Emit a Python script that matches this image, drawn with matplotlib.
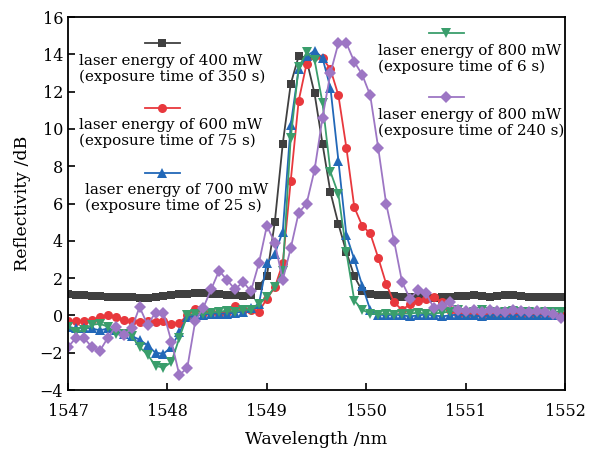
import numpy as np
import matplotlib
matplotlib.use('Agg')
import matplotlib.pyplot as plt
from matplotlib.lines import Line2D

# 波长网格 (nm)
wavelength = np.round(1547 + 0.08 * np.arange(63), 2)

r400 = [1.15, 1.1, 1.1, 1.05, 1.05, 1.0, 1.0, 1.0, 1.0, 0.95, 0.95, 1.0, 1.05, 1.1, 1.15, 1.15, 1.2, 1.2, 1.15, 1.15, 1.1, 1.1, 1.05, 1.1,
        1.6, 2.1, 5.0, 9.2, 12.4, 13.9, 13.7, 11.9, 9.2, 6.6, 4.9, 3.4, 2.1, 1.3,
        1.15, 1.1, 1.1, 1.05, 1.0, 1.0, 1.0, 0.95, 0.95, 1.0, 1.0, 1.05, 1.05, 1.1, 1.05, 1.0, 1.05, 1.1, 1.1, 1.05, 1.0, 1.0, 1.0, 1.0, 1.0]
r600 = [-0.3, -0.3, -0.3, -0.25, -0.1, 0.0, -0.1, -0.25, -0.3, -0.35, -0.3, -0.35, -0.3, -0.45, -0.4,
        0.0, 0.35, 0.15, 0.2, 0.1, 0.2, 0.5, 0.3, 0.3, 0.2, 0.9, 1.5,
        2.8, 7.2, 11.5, 13.5, 13.9, 13.8, 13.2, 11.8, 9.0, 5.8, 4.8, 4.4, 3.1, 1.7, 0.7,
        0.3, 0.6, 0.8, 0.9, 1.0, 0.7, 0.3, 0.1, 0.0, 0.1, 0.05, 0.1, 0.0, 0.05, 0.1, 0.05, 0.0, 0.05, 0.1, 0.05, 0.0]
r700 = [-0.6, -0.7, -0.65, -0.7, -0.8, -0.7, -0.8, -1.0, -1.1, -1.3, -1.6, -2.0, -2.05, -1.7, -0.9,
        -0.1, 0.0, 0.05, 0.1, 0.1, 0.1, 0.15, 0.2, 0.4, 0.6, 2.8, 3.3,
        4.5, 10.2, 13.2, 13.9, 14.2, 13.8, 12.2, 8.3, 4.3, 3.0, 1.6, 0.3,
        0.05, 0.0, 0.05, 0.0, -0.05, 0.0, 0.05, 0.0, -0.05, 0.0, 0.05, 0.0, 0.0, -0.05, 0.0, 0.05, 0.0, 0.0, 0.05, 0.0, 0.0, 0.0, 0.05, 0.0]
r800_6 = [-0.6, -0.9, -0.8, -0.5, -0.45, -0.6, -1.0, -1.0, -1.1, -1.7, -2.1, -2.7, -2.8, -2.5, -1.2,
          0.0, 0.1, 0.1, 0.15, 0.2, 0.25, 0.2, 0.3, 0.3, 0.6, 1.0, 1.5, 2.4,
          9.5, 13.3, 14.1, 13.7, 11.4, 7.7, 6.5, 3.4, 0.8, 0.3, 0.1,
          0.05, 0.1, 0.05, 0.1, 0.1, 0.15, 0.1, 0.1, 0.15, 0.2, 0.3, 0.15, 0.2, 0.3, 0.2, 0.15, 0.2, 0.25, 0.2, 0.2, 0.15, 0.2, 0.2, 0.2]
r800_240 = [-1.7, -1.2, -1.2, -1.7, -1.9, -1.2, -0.6, -1.05, -0.7, 0.45, -0.5, 0.15, 0.15, -1.4, -3.2, -2.8, -0.3,
            0.4, 1.4, 2.4, 1.9, 1.4, 1.8, 1.3, 2.8, 4.8, 3.9, 1.9, 3.6, 5.5, 6.0, 7.8, 10.6, 13.0,
            14.6, 14.6, 13.6, 12.9, 11.8, 9.0, 6.0, 4.0, 1.8, 0.9, 1.35, 1.2, 0.4, 0.5, 0.7,
            0.3, 0.25, 0.3, 0.2, 0.3, 0.25, 0.2, 0.3, 0.25, 0.2, 0.25, 0.2, 0.1, -0.15]

labels = ['laser energy of 400 mW\n(exposure time of 350 s)',
          'laser energy of 600 mW\n(exposure time of 75 s)',
          'laser energy of 700 mW\n(exposure time of 25 s)',
          'laser energy of 800 mW\n(exposure time of 6 s)',
          'laser energy of 800 mW\n(exposure time of 240 s)']
series = [r400, r600, r700, r800_6, r800_240]
colors = ['#404040', '#e8383d', '#2268b8', '#3a9e6c', '#9d76c4']
markers = ['s', 'o', '^', 'v', 'D']
msizes = [6, 6.5, 7, 7, 6]

plt.rcParams['font.family'] = ['DejaVu Serif']

fig = plt.figure(figsize=(5.91, 4.53), dpi=100)
ax = fig.add_axes([0.1151, 0.139, 0.841, 0.8234])

for y, c, m, ms in zip(series, colors, markers, msizes):
    ax.plot(wavelength, y, color=c, marker=m, markersize=ms, lw=1.3, markeredgewidth=0)

ax.set_xlim(1547, 1552)
ax.set_ylim(-4, 16)
ax.set_xticks(range(1547, 1553))
ax.set_yticks(range(-4, 17, 2))
ax.tick_params(direction='in', length=5, width=1.2, labelsize=11.5)
ax.tick_params(axis='x', pad=9)
for s in ax.spines.values():
    s.set_linewidth(1.3)
ax.set_xlabel('Wavelength /nm', fontsize=12.5, labelpad=8)
ax.set_ylabel('Reflectivity /dB', fontsize=12.5, labelpad=6)

# 手工图例：标记在上，文字在下
leg = [(0.155, 0.930, 0.022, 0.861),
       (0.155, 0.756, 0.022, 0.689),
       (0.155, 0.582, 0.034, 0.516),
       (0.726, 0.957, 0.624, 0.887),
       (0.726, 0.786, 0.624, 0.717)]
for (lx, ly, tx, ty), lab, c, m, ms in zip(leg, labels, colors, markers, msizes):
    ax.add_line(Line2D([lx, lx + 0.07], [ly, ly], transform=ax.transAxes, color=c, lw=1.3))
    ax.add_line(Line2D([lx + 0.035], [ly], transform=ax.transAxes, color=c, marker=m,
                       markersize=ms, markeredgewidth=0))
    ax.text(tx, ty, lab, transform=ax.transAxes, ha='left', va='center', fontsize=10.9,
            linespacing=1.15, multialignment='left')

fig.savefig('out.png', dpi=100)
